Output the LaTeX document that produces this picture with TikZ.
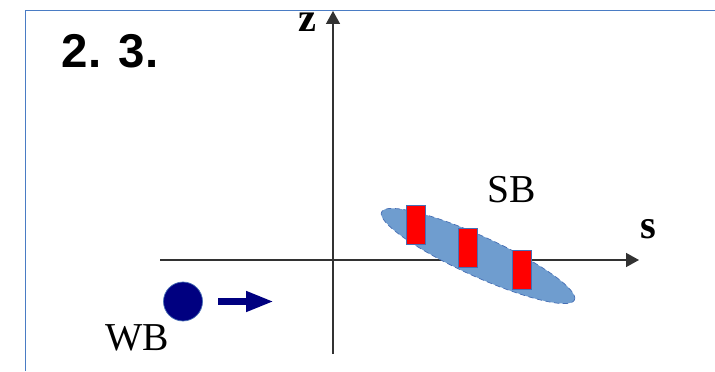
\documentclass[tikz,border=0pt]{standalone}
\usepackage{fontspec}
\setmainfont{Liberation Serif}
\newfontfamily\headfont{Liberation Sans}
\usepackage{tikz}
\usetikzlibrary{arrows.meta,shapes,positioning}
\usepackage{xcolor}
\definecolor{framebl}{RGB}{74,124,196}
\definecolor{bunchbl}{RGB}{111,157,207}
\definecolor{edgebl}{RGB}{70,110,180}
\definecolor{axisgr}{RGB}{50,50,50}
\definecolor{navy}{RGB}{0,0,128}

\begin{document}
\begin{tikzpicture}[
    axis/.style={draw=axisgr, line width=0.7pt, -{Triangle[length=7.4pt,width=8pt]}},
    lbl/.style={font=\fontsize{22.5}{24}\selectfont, inner sep=0pt},
    slice/.style={draw=edgebl, line width=0.5pt, fill=red, minimum width=0.38cm, minimum height=0.78cm, inner sep=0pt}
]
    \useasboundingbox (0,0) rectangle (14.3,7.42);
    \draw[framebl, line width=0.9pt] (0.51,0) -- (0.51,7.21) -- (14.3,7.21);

    % axes
    \coordinate (zlo) at (6.66,0.34);
    \coordinate (zhi) at (6.66,7.2);
    \coordinate (slo) at (3.2,2.22);
    \coordinate (shi) at (12.78,2.22);
    \draw[axis] (zlo) -- (zhi);
    \draw[axis] (slo) -- (shi);
    \node[lbl, font=\fontsize{23}{24}\selectfont\bfseries] (zl) at (6.14,6.98) {z};
    \node[lbl, font=\fontsize{23}{24}\selectfont\bfseries] (sl) at (12.96,2.84) {s};

    \node[font=\fontsize{27}{30}\selectfont\headfont\bfseries, inner sep=0pt] (num) at (2.2,6.4) {2. 3.};

    % strong bunch
    \node[draw=edgebl, densely dashed, line width=0.4pt, fill=bunchbl, ellipse, minimum width=4.24cm, minimum height=0.8cm, inner sep=0pt, rotate=-24.5] (sb) at (9.56,2.30) {};
    \node[slice] (sl1) at (8.31,2.93) {};
    \node[slice] (sl2) at (9.36,2.47) {};
    \node[slice] (sl3) at (10.43,2.02) {};
    \node[lbl] (sbl) at (10.24,3.62) {SB};

    % weak bunch
    \node[draw=edgebl, line width=0.4pt, fill=navy, circle, minimum size=0.78cm, inner sep=0pt] (wb) at (3.66,1.39) {};
    \node[lbl] (wbl) at (2.74,0.66) {WB};
    \coordinate (wbt) at (4.36,1.39);
    \coordinate (wbh) at (5.48,1.39);
    \draw[navy, line width=4pt, -{Triangle[length=15.9pt,width=10.8pt]}] (wbt) -- (wbh);
\end{tikzpicture}
\end{document}
